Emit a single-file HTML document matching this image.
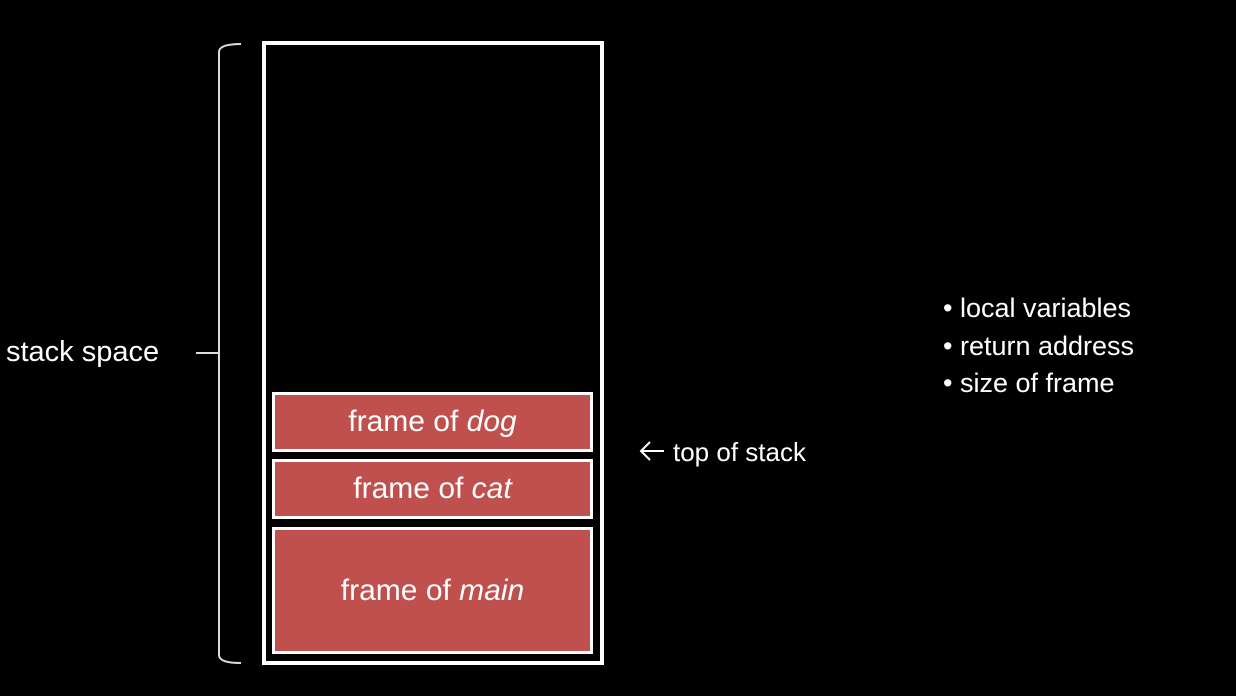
<!DOCTYPE html>
<html><head><meta charset="utf-8"><style>
html,body{margin:0;padding:0;background:#000;}
body{width:1236px;height:696px;position:relative;overflow:hidden;font-family:"Liberation Sans",sans-serif;color:#fff;}
.t{position:absolute;white-space:nowrap;}
.frame{position:absolute;background:#c0504d;border:3px solid #fff;box-sizing:border-box;display:flex;align-items:center;justify-content:center;font-size:30px;color:#fff;}
</style></head><body>
<svg width="1236" height="696" style="position:absolute;left:0;top:0">
  <path d="M241 44 Q219 44 219 52 L219 655 Q219 663 241 663" fill="none" stroke="#ddd" stroke-width="2"/>
  <line x1="196" y1="353" x2="219" y2="353" stroke="#ddd" stroke-width="2"/>
  <rect x="264" y="43" width="338" height="620" fill="none" stroke="#fff" stroke-width="4"/>
  <g stroke="#fff" stroke-width="2" fill="none">
    <line x1="641" y1="451" x2="664" y2="451"/>
    <polyline points="650,442 641,451 650,460"/>
  </g>
</svg>
<div class="frame" style="left:272px;top:392px;width:321px;height:60px">frame of&nbsp;<i>dog</i></div>
<div class="frame" style="left:272px;top:459px;width:321px;height:60px">frame of&nbsp;<i>cat</i></div>
<div class="frame" style="left:272px;top:527px;width:321px;height:127px">frame of&nbsp;<i>main</i></div>
<div class="t" style="left:6px;top:336px;font-size:29px">stack space</div>
<div class="t" style="left:673px;top:437px;font-size:26px">top of stack</div>
<div class="t" style="left:943px;top:290px;font-size:27px;line-height:37.5px">
<div>• local variables</div>
<div>• return address</div>
<div>• size of frame</div>
</div>
</body></html>
